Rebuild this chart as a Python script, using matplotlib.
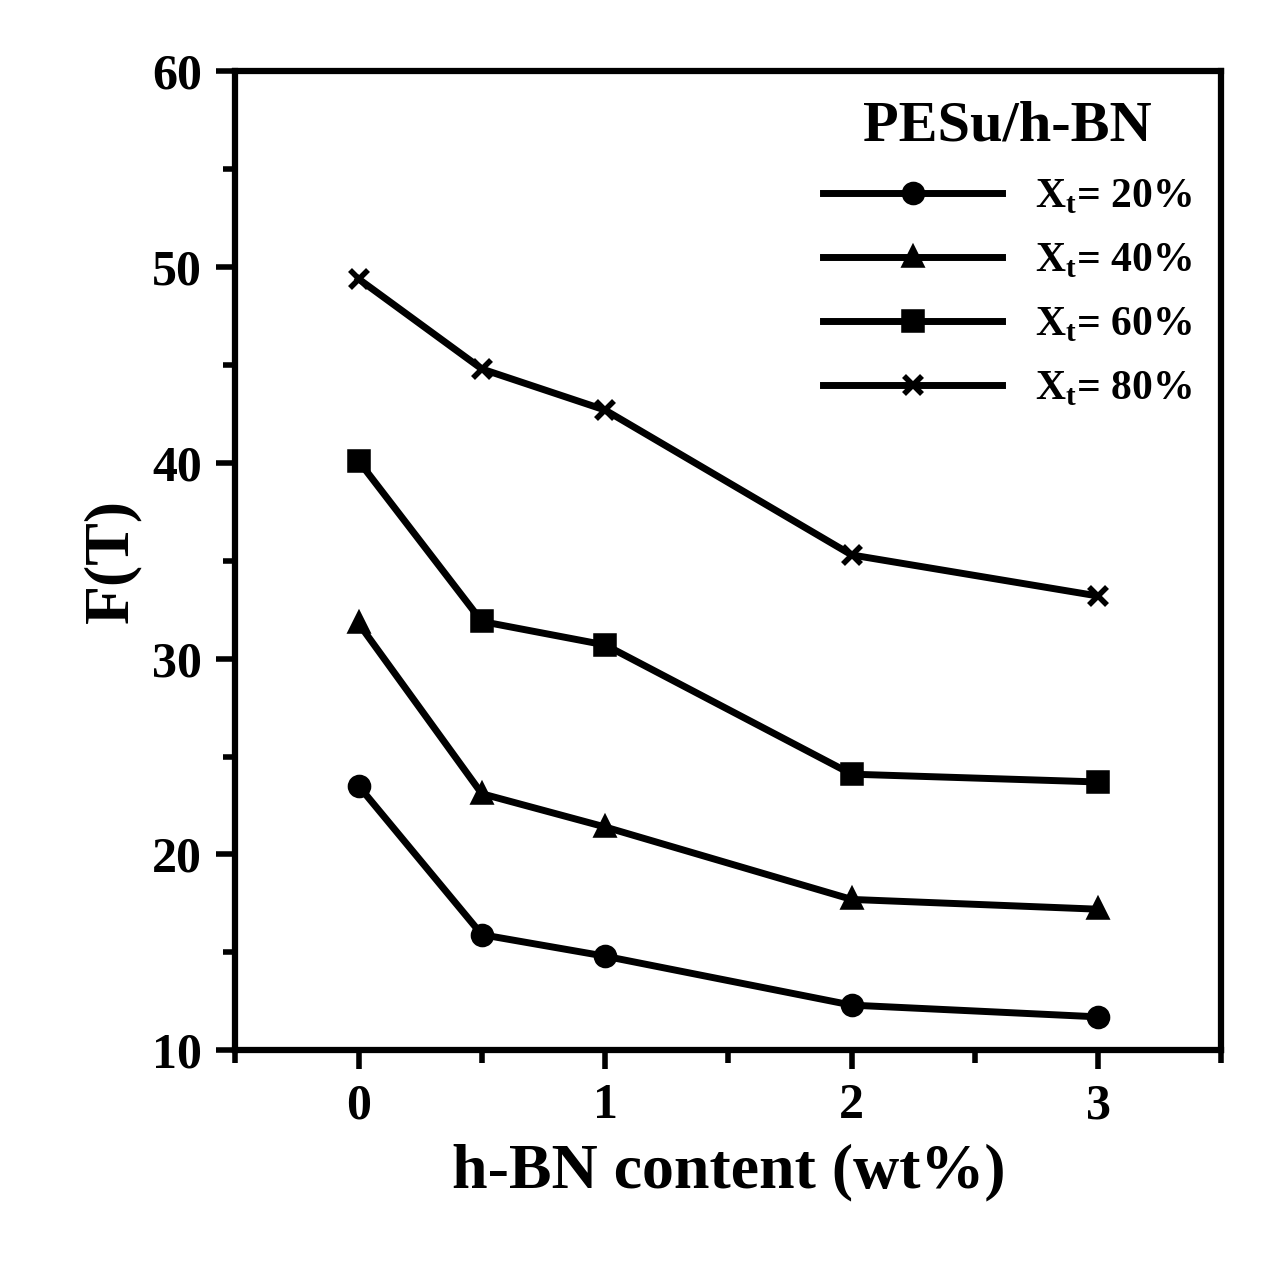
import matplotlib
matplotlib.use('Agg')
import matplotlib.pyplot as plt

plt.rcParams['font.family'] = ['Liberation Serif', 'DejaVu Serif']
plt.rcParams['font.weight'] = 'bold'

hbn = [0, 0.5, 1, 2, 3]
x20 = [23.5, 15.9, 14.8, 12.3, 11.7]
x40 = [31.8, 23.1, 21.4, 17.7, 17.2]
x60 = [40.1, 31.9, 30.7, 24.1, 23.7]
x80 = [49.4, 44.8, 42.7, 35.3, 33.2]
labels = [r'X$_\mathregular{t}$= 20%', r'X$_\mathregular{t}$= 40%',
          r'X$_\mathregular{t}$= 60%', r'X$_\mathregular{t}$= 80%']

fig = plt.figure(figsize=(12.79, 12.76), dpi=100)
ax = fig.add_axes([0.184, 0.177, 0.771, 0.767])
for ys, m, ms, lab in zip([x20, x40, x60, x80], ['o', '^', 's', 'x'], [13, 12, 13, 13], labels):
    ax.plot(hbn, ys, color='black', lw=5, marker=m, ms=ms, mew=4, label=lab)

ax.set_xlim(-0.5, 3.5)
ax.set_ylim(10, 60)
ax.set_xticks([0, 1, 2, 3])
ax.set_xticks([-0.5, 0.5, 1.5, 2.5, 3.5], minor=True)
ax.set_yticks([10, 20, 30, 40, 50, 60])
ax.set_yticks([15, 25, 35, 45, 55], minor=True)
ax.tick_params(which='major', direction='out', length=14, width=4, labelsize=36, pad=10)
ax.tick_params(which='minor', direction='out', length=9, width=4)
for s in ax.spines.values():
    s.set_linewidth(4.5)
ax.set_xlabel('h-BN content (wt%)', fontsize=46, fontweight='bold', labelpad=10)
ax.set_ylabel('F(T)', fontsize=46, fontweight='bold', labelpad=8)
leg = ax.legend(loc='upper right', title='PESu/h-BN', fontsize=30, title_fontsize=42,
                frameon=False, handlelength=4.3, labelspacing=0.6, borderaxespad=0.3)
leg.get_title().set_fontweight('bold')
fig.savefig('out.png', dpi=100)
